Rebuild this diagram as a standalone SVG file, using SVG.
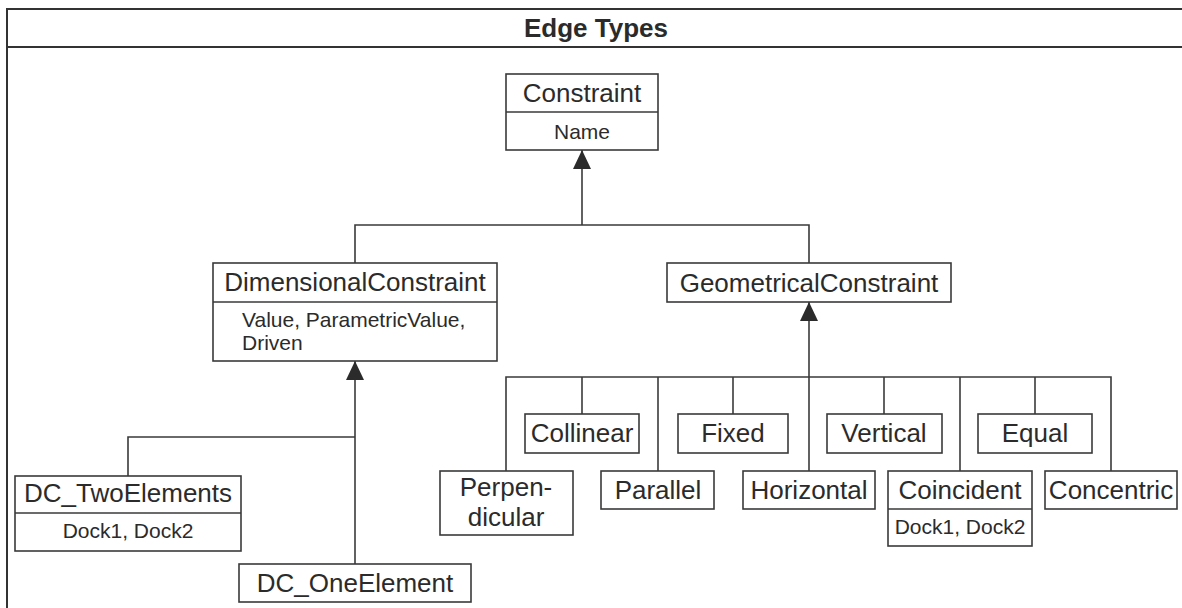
<svg xmlns="http://www.w3.org/2000/svg" width="1182" height="608" viewBox="0 0 1182 608">
  <style>
    .box { fill: #ffffff; stroke: #3a3a3a; stroke-width: 1.6; }
    .sep { stroke: #3a3a3a; stroke-width: 1.6; fill: none; }
    .wire { stroke: #3a3a3a; stroke-width: 1.6; fill: none; }
    .frame { stroke: #333333; stroke-width: 2; fill: none; }
    .lbl { font-family: "Liberation Sans", Arial, sans-serif; font-size: 26px; fill: #2b2b2b; text-anchor: middle; }
    .att { font-family: "Liberation Sans", Arial, sans-serif; font-size: 21px; fill: #2b2b2b; text-anchor: middle; }
    .attl { font-family: "Liberation Sans", Arial, sans-serif; font-size: 21px; fill: #2b2b2b; }
    .title { font-family: "Liberation Sans", Arial, sans-serif; font-size: 26px; font-weight: bold; fill: #2b2b2b; text-anchor: middle; }
  </style>
  <defs>
    <marker id="gen" viewBox="0 0 19 18" refX="19" refY="9" markerWidth="19" markerHeight="18" markerUnits="userSpaceOnUse" orient="auto">
      <path d="M0,0 L19,9 L0,18 z" fill="#2b2b2b"/>
    </marker>
  </defs>

  <rect width="1182" height="608" fill="#ffffff"/>

  <!-- outer frame with title bar -->
  <g id="frame">
    <path class="frame" d="M7,608 V9 H1184"/>
    <line class="frame" x1="7" y1="47" x2="1184" y2="47"/>
    <text class="title" x="596" y="37">Edge Types</text>
  </g>

  <!-- connectors -->
  <g id="connectors">
    <!-- Constraint generalization -->
    <path class="wire" d="M355,263 V225 H809 V263"/>
    <line class="wire" x1="582" y1="225" x2="582" y2="150" marker-end="url(#gen)"/>
    <!-- DimensionalConstraint generalization -->
    <path class="wire" d="M128,476 V437 H355"/>
    <line class="wire" x1="355" y1="564" x2="355" y2="361" marker-end="url(#gen)"/>
    <!-- GeometricalConstraint generalization -->
    <path class="wire" d="M506,471 V377 H1111 V471"/>
    <line class="wire" x1="582" y1="377" x2="582" y2="414"/>
    <line class="wire" x1="658" y1="377" x2="658" y2="471"/>
    <line class="wire" x1="733" y1="377" x2="733" y2="414"/>
    <line class="wire" x1="884" y1="377" x2="884" y2="414"/>
    <line class="wire" x1="960" y1="377" x2="960" y2="471"/>
    <line class="wire" x1="1035" y1="377" x2="1035" y2="414"/>
    <line class="wire" x1="809" y1="471" x2="809" y2="302" marker-end="url(#gen)"/>
  </g>

  <g id="constraint">
    <rect class="box" x="506" y="74" width="152" height="76"/>
    <line class="sep" x1="506" y1="112" x2="658" y2="112"/>
    <text class="lbl" x="582" y="102">Constraint</text>
    <text class="att" x="582" y="139">Name</text>
  </g>

  <g id="dimensional">
    <rect class="box" x="213" y="263" width="284" height="98"/>
    <line class="sep" x1="213" y1="302" x2="497" y2="302"/>
    <text class="lbl" x="355" y="291">DimensionalConstraint</text>
    <text class="attl" x="242" y="327">Value, ParametricValue,</text>
    <text class="attl" x="242" y="350">Driven</text>
  </g>

  <g id="geometrical">
    <rect class="box" x="667" y="263" width="284" height="39"/>
    <text class="lbl" x="809" y="292">GeometricalConstraint</text>
  </g>

  <g id="dc-two">
    <rect class="box" x="15" y="476" width="226" height="75"/>
    <line class="sep" x1="15" y1="513" x2="241" y2="513"/>
    <text class="lbl" x="128" y="502">DC_TwoElements</text>
    <text class="att" x="128" y="538">Dock1, Dock2</text>
  </g>

  <g id="dc-one">
    <rect class="box" x="239" y="564" width="232" height="38"/>
    <text class="lbl" x="355" y="592">DC_OneElement</text>
  </g>

  <g id="perpendicular">
    <rect class="box" x="440" y="471" width="133" height="64"/>
    <text class="lbl" x="506" y="496">Perpen-</text>
    <text class="lbl" x="506" y="526">dicular</text>
  </g>

  <g id="collinear">
    <rect class="box" x="525" y="414" width="114" height="39"/>
    <text class="lbl" x="582" y="442">Collinear</text>
  </g>

  <g id="parallel">
    <rect class="box" x="601" y="471" width="113" height="38"/>
    <text class="lbl" x="658" y="499">Parallel</text>
  </g>

  <g id="fixed">
    <rect class="box" x="678" y="414" width="110" height="39"/>
    <text class="lbl" x="733" y="442">Fixed</text>
  </g>

  <g id="horizontal">
    <rect class="box" x="743" y="471" width="132" height="38"/>
    <text class="lbl" x="809" y="499">Horizontal</text>
  </g>

  <g id="vertical">
    <rect class="box" x="827" y="414" width="115" height="39"/>
    <text class="lbl" x="884" y="442">Vertical</text>
  </g>

  <g id="coincident">
    <rect class="box" x="888" y="471" width="144" height="75"/>
    <line class="sep" x1="888" y1="509" x2="1032" y2="509"/>
    <text class="lbl" x="960" y="499">Coincident</text>
    <text class="att" x="960" y="534">Dock1, Dock2</text>
  </g>

  <g id="equal">
    <rect class="box" x="978" y="414" width="114" height="39"/>
    <text class="lbl" x="1035" y="442">Equal</text>
  </g>

  <g id="concentric">
    <rect class="box" x="1045" y="471" width="132" height="38"/>
    <text class="lbl" x="1111" y="499">Concentric</text>
  </g>
</svg>
